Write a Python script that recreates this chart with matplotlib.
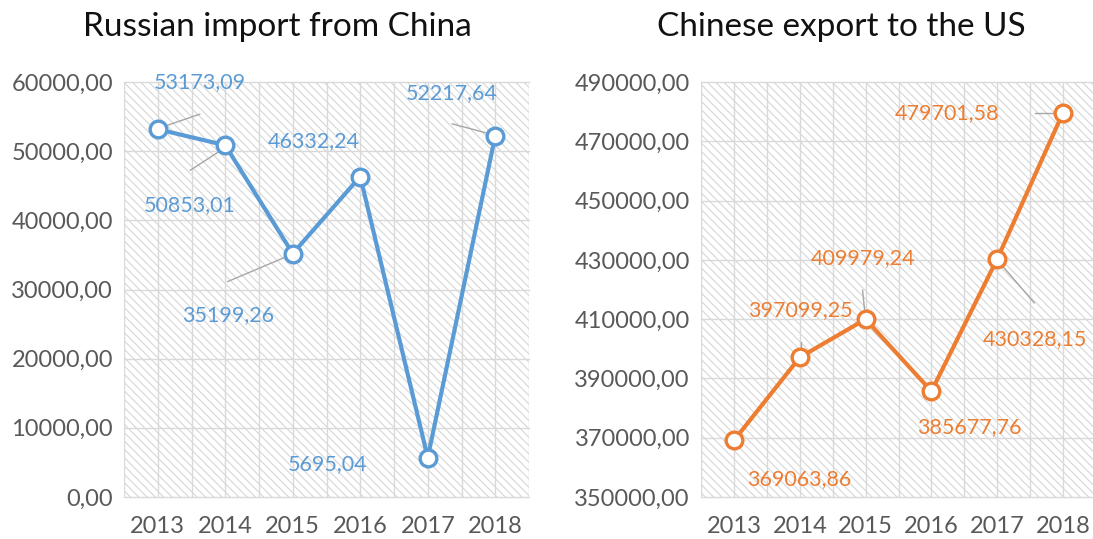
import matplotlib
matplotlib.use("Agg")
import numpy as np
import matplotlib.pyplot as plt
from matplotlib.patches import Rectangle
from matplotlib.ticker import FuncFormatter

plt.rcParams['font.family'] = ['Lato', 'DejaVu Sans']
plt.rcParams['hatch.linewidth'] = 0.75

years = ['2013', '2014', '2015', '2016', '2017', '2018']
russia_import = [53173.09, 50853.01, 35199.26, 46332.24, 5695.04, 52217.64]
china_export_us = [369063.86, 397099.25, 409979.24, 385677.76, 430328.15, 479701.58]

# label placement in pixels relative to each point (dx right, dy down)
russia_label_offsets = [(42, -47), (-36, 60), (-65, 62), (-47, -35), (-100, 6), (-44, -43)]
russia_leaders = [((4, -2), (42, -15)), ((-35, 25), (2, 1)), ((-65, 28), (-6, 3)),
                  None, None, ((-43, -12), (-2, -1))]
us_label_offsets = [(65, 39), (1, -47), (-3, -61), (38, 36), (38, 80), (-116, 1)]
us_leaders = [None, ((1, -15), (1, -5)), ((-3, -29), (-1, -9)), None,
              ((0, 1), (37, 44)), ((-28, 0), (-3, 0))]

BLUE = '#5B9BD5'
ORANGE = '#ED7D31'
TICK = '#595959'
GRID = '#d9d9d9'
HATCH = '#d4d4d4'
LEADER = '#a6a6a6'

W, H = 1093, 539
fig = plt.figure(figsize=(W / 100, H / 100), dpi=100)


def comma_fmt(v, pos):
    return f"{v:.2f}".replace('.', ',')


def panel(rect, values, color, ylim, ystep, offsets, leaders, title, title_x):
    ax = fig.add_axes(rect)
    ax.set_facecolor('white')
    ax.add_patch(Rectangle((0, 0), 1, 1, transform=ax.transAxes, facecolor='white',
                           edgecolor=HATCH, hatch='\\\\\\\\', lw=0, zorder=0))
    x = list(range(len(years)))
    ax.set_xlim(-0.5, len(years) - 0.5)
    ax.set_ylim(*ylim)
    yt = np.arange(ylim[0], ylim[1] + ystep / 2, ystep)
    ax.set_yticks(yt)
    ax.yaxis.set_major_formatter(FuncFormatter(comma_fmt))
    ax.set_xticks(x)
    ax.set_xticklabels(years)
    for s in ax.spines.values():
        s.set_visible(False)
    ax.tick_params(length=0, labelsize=17, colors=TICK, pad=8)
    ax.tick_params(axis='x', pad=14)
    for v in yt:
        ax.axhline(v, color=GRID, lw=1.0, zorder=1, clip_on=False)
    for k in range(len(years) * 2 + 1):
        ax.axvline(-0.5 + 0.5 * k, color=GRID, lw=1.0, zorder=1)

    ax.plot(x, values, color=color, lw=3.0, marker='o', ms=12, mfc='white',
            mec=color, mew=2.4, zorder=4, solid_joinstyle='round')

    inv = ax.transData.inverted()
    for xi, v, off, lead in zip(x, values, offsets, leaders):
        ax.annotate(comma_fmt(v, None), (xi, v), xytext=(off[0], -off[1]),
                    textcoords='offset pixels', ha='center', va='center',
                    fontsize=15.5, color=color, zorder=5)
        if lead is not None:
            (a, b), (c, d) = lead
            p0 = ax.transData.transform((xi, v))
            q0 = inv.transform((p0[0] + a, p0[1] - b))
            q1 = inv.transform((p0[0] + c, p0[1] - d))
            ax.plot([q0[0], q1[0]], [q0[1], q1[1]], color=LEADER, lw=1.0, zorder=3)

    fig.text(title_x, 1 - 27 / H, title, ha='center', va='center', fontsize=24,
             color='#111111')
    return ax


bottom = 1 - 497 / H
height = (497 - 82) / H
panel([124 / W, bottom, (529 - 124) / W, height], russia_import, BLUE,
      (0, 60000), 10000, russia_label_offsets, russia_leaders,
      'Russian import from China', 277 / W)
panel([701 / W, bottom, (1096 - 701) / W, height], china_export_us, ORANGE,
      (350000, 490000), 20000, us_label_offsets, us_leaders,
      'Chinese export to the US', 841 / W)

fig.savefig('out.png', dpi=100, facecolor='white')
